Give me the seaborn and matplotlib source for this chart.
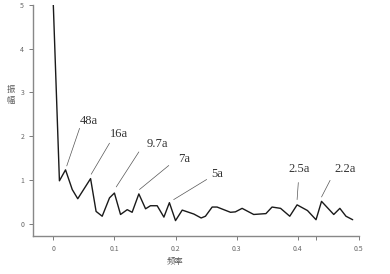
import numpy as np
import pandas as pd
import seaborn as sns
import matplotlib.pyplot as plt

# spectrum
freq = [0, 0.01, 0.02, 0.031, 0.04, 0.061, 0.07, 0.08, 0.092, 0.10, 0.11, 0.121,
        0.129, 0.14, 0.151, 0.159, 0.17, 0.181, 0.19, 0.20, 0.211, 0.23, 0.242,
        0.249, 0.26, 0.268, 0.29, 0.298, 0.309, 0.328, 0.348, 0.358, 0.372,
        0.387, 0.399, 0.416, 0.43, 0.439, 0.459, 0.469, 0.479, 0.49]
amp = [5.0, 0.98, 1.23, 0.78, 0.57, 1.03, 0.28, 0.17, 0.59, 0.70, 0.21, 0.32,
       0.26, 0.68, 0.34, 0.41, 0.41, 0.15, 0.48, 0.07, 0.31, 0.22, 0.13,
       0.17, 0.38, 0.38, 0.26, 0.27, 0.35, 0.21, 0.23, 0.38, 0.35,
       0.17, 0.43, 0.30, 0.09, 0.51, 0.21, 0.35, 0.17, 0.09]

# period labels: text, text pos, line start, line end (peak)
periods = ["48a", "16a", "9.7a", "7a", "5a", "2.5a", "2.2a"]
text_xy = [(0.058, 2.35), (0.107, 2.06), (0.170, 1.83), (0.214, 1.47),
           (0.268, 1.13), (0.403, 1.24), (0.477, 1.24)]
line_from = [(0.043, 2.18), (0.092, 1.84), (0.140, 1.64), (0.189, 1.33),
             (0.251, 1.01), (0.401, 0.94), (0.453, 0.99)]
line_to = [(0.022, 1.32), (0.062, 1.13), (0.103, 0.84), (0.141, 0.78),
           (0.197, 0.55), (0.399, 0.55), (0.439, 0.61)]

df = pd.DataFrame({"freq": freq, "amp": amp})

sns.set_style("white")
plt.rcParams['font.family'] = ['Noto Sans CJK SC', 'DejaVu Sans']

fig = plt.figure(figsize=(3.9, 2.74), dpi=100)
ax = fig.add_axes([0.085, 0.139, 0.835, 0.843])
sns.lineplot(data=df, x="freq", y="amp", ax=ax, color="#1a1a1a", linewidth=1.0)

for lab, t, a, b in zip(periods, text_xy, line_from, line_to):
    ax.plot([a[0], b[0]], [a[1], b[1]], color="#555555", linewidth=0.5)
    ax.text(t[0], t[1], lab, ha="center", va="center", fontsize=9,
            family="Liberation Serif", color="#333333")

ax.set_xlim(-0.033, 0.5)
ax.set_ylim(-0.28, 5.0)
ax.set_xticks([0, 0.1, 0.2, 0.3, 0.4, 0.5])
ax.set_xticklabels(["0", "0.1", "0.2", "0.3", "0.4", "0.5"])
ax.set_xticks([0.43], minor=True)
ax.set_yticks([0, 1, 2, 3, 4, 5])
ax.tick_params(axis="both", which="both", labelsize=5, colors="#666666",
               length=3, width=0.6, direction="out")
ax.tick_params(bottom=True, left=True, which="both")

for s in ["top", "right"]:
    ax.spines[s].set_visible(False)
for s in ["left", "bottom"]:
    ax.spines[s].set_color("#888888")
    ax.spines[s].set_linewidth(1.0)

ax.set_xlabel("频率", fontsize=6, color="#555555")
ax.xaxis.set_label_coords(0.436, -0.09)
ax.set_ylabel("振\n幅", fontsize=6, color="#555555", rotation=0,
              linespacing=1.4, va="center")
ax.yaxis.set_label_coords(-0.068, 0.61)

fig.savefig("out.png", dpi=100)
